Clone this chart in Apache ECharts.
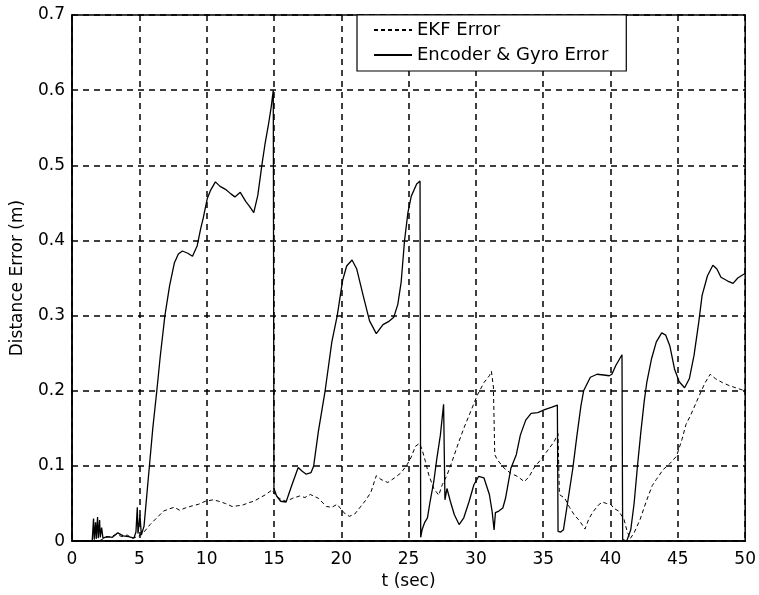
<!DOCTYPE html>
<html>
<head>
<meta charset="utf-8">
<script src="https://cdn.jsdelivr.net/npm/echarts@6/dist/echarts.min.js"></script>
<style>
  html, body { margin: 0; padding: 0; background: #fff; }
  #main { width: 759px; height: 595px; }
</style>
</head>
<body>
<div id="main"></div>
<script>
// axis ticks
const xTicks = [0, 5, 10, 15, 20, 25, 30, 35, 40, 45, 50]
const yTicks = [0, 0.1, 0.2, 0.3, 0.4, 0.5, 0.6, 0.7]

// EKF error (dashed)
const ekfT = [0, 2.0, 2.5, 2.9, 3.3, 3.7, 4.1, 4.5, 4.9, 5.3, 5.8, 6.3, 6.8, 7.25, 7.6, 8.0, 8.4, 8.95, 9.4, 9.9,
  10.5, 10.9, 11.4, 11.9, 12.3, 12.7, 13.1, 13.5, 14.0, 14.4, 14.85, 15.2, 15.6, 15.9, 16.4, 16.9, 17.3, 17.7, 18.3, 18.9,
  19.3, 19.7, 20.0, 20.3, 20.6, 21.0, 21.4, 21.8, 22.2, 22.6, 22.95, 23.45, 23.95, 24.45, 24.9, 25.2, 25.5, 25.8, 26.0, 26.25,
  26.5, 26.87, 27.24, 27.5, 27.86, 28.23, 28.73, 29.1, 29.6, 30.1, 30.6, 31.0, 31.15, 31.3, 31.4, 31.6, 32.1, 32.6, 33.1, 33.6,
  33.96, 34.3, 34.8, 35.3, 35.8, 36.1, 36.2, 36.6, 36.95, 37.3, 37.7, 38.1, 38.4, 38.7, 39.1, 39.4, 39.7, 40.0, 40.3, 40.6,
  41.0, 41.2, 41.45, 41.75, 42.2, 42.5, 42.8, 43.1, 43.4, 43.9, 44.4, 44.9, 45.3, 45.6, 45.96, 46.5, 47.0, 47.4, 47.8, 48.3,
  48.8, 49.3, 49.8, 50.0]
const ekfV = [0, 0, 0.005, 0.006, 0.009, 0.006, 0.008, 0.004, 0.006, 0.011, 0.022, 0.031, 0.04, 0.043, 0.045, 0.041, 0.044, 0.047, 0.049, 0.053,
  0.055, 0.053, 0.05, 0.046, 0.047, 0.048, 0.051, 0.053, 0.058, 0.062, 0.068, 0.059, 0.055, 0.053, 0.057, 0.06, 0.058, 0.062, 0.057, 0.046,
  0.045, 0.049, 0.042, 0.036, 0.033, 0.036, 0.045, 0.054, 0.065, 0.087, 0.082, 0.078, 0.084, 0.091, 0.102, 0.112, 0.126, 0.13, 0.122, 0.106,
  0.088, 0.07, 0.061, 0.075, 0.088, 0.106, 0.132, 0.15, 0.172, 0.194, 0.211, 0.22, 0.226, 0.205, 0.115, 0.108, 0.097, 0.09, 0.086, 0.079,
  0.086, 0.097, 0.108, 0.12, 0.132, 0.143, 0.062, 0.057, 0.045, 0.035, 0.027, 0.016, 0.03, 0.039, 0.048, 0.052, 0.05, 0.049, 0.043, 0.04,
  0.029, 0.015, 0.003, 0.011, 0.029, 0.045, 0.06, 0.074, 0.082, 0.095, 0.103, 0.113, 0.135, 0.155, 0.168, 0.19, 0.21, 0.222, 0.216, 0.211,
  0.207, 0.204, 0.201, 0.2]

// Encoder & Gyro error (solid)
const encT = [0, 1.5, 1.6, 1.65, 1.75, 1.8, 1.9, 1.95, 2.05, 2.1, 2.2, 2.3, 2.6, 3.0, 3.4, 3.8, 4.2, 4.6, 4.75, 4.85,
  4.9, 5.05, 5.15, 5.35, 5.6, 5.75, 6.0, 6.3, 6.55, 6.9, 7.25, 7.6, 7.9, 8.2, 8.6, 8.95, 9.3, 9.55, 9.75, 10.05,
  10.3, 10.65, 11.0, 11.4, 11.8, 12.1, 12.5, 12.9, 13.2, 13.5, 13.8, 14.1, 14.35, 14.6, 14.8, 14.95, 15.0, 15.2, 15.5, 15.9,
  16.3, 16.8, 17.1, 17.4, 17.75, 17.95, 18.3, 18.8, 19.3, 19.7, 20.1, 20.4, 20.8, 21.15, 21.65, 22.1, 22.6, 23.1, 23.5, 23.9,
  24.2, 24.45, 24.7, 24.95, 25.2, 25.6, 25.85, 25.9, 26.0, 26.2, 26.4, 26.6, 26.87, 27.1, 27.36, 27.6, 27.7, 27.85, 28.1, 28.4,
  28.75, 29.1, 29.5, 29.85, 30.2, 30.6, 31.0, 31.2, 31.35, 31.45, 31.7, 32.0, 32.2, 32.6, 33.0, 33.3, 33.7, 34.1, 34.6, 35.1,
  35.6, 36.05, 36.1, 36.3, 36.5, 36.8, 37.2, 37.5, 37.8, 38.0, 38.5, 39.0, 39.5, 39.9, 40.1, 40.4, 40.85, 40.9, 41.2, 41.5,
  41.75, 42.0, 42.25, 42.5, 42.7, 43.05, 43.4, 43.8, 44.1, 44.4, 44.75, 45.1, 45.5, 45.85, 46.2, 46.55, 46.8, 47.2, 47.6, 47.9,
  48.2, 48.7, 49.1, 49.45, 49.8, 50.0]
const encV = [0, 0, 0.03, 0.002, 0.025, 0.003, 0.032, 0.004, 0.028, 0.005, 0.018, 0.004, 0.006, 0.005, 0.011, 0.007, 0.006, 0.004, 0.012, 0.045,
  0.01, 0.035, 0.008, 0.02, 0.07, 0.1, 0.15, 0.2, 0.245, 0.3, 0.34, 0.37, 0.382, 0.386, 0.383, 0.379, 0.393, 0.415, 0.43, 0.456,
  0.467, 0.478, 0.472, 0.468, 0.462, 0.458, 0.464, 0.452, 0.445, 0.437, 0.46, 0.5, 0.53, 0.555, 0.578, 0.6, 0.07, 0.06, 0.053, 0.052,
  0.073, 0.098, 0.093, 0.089, 0.091, 0.1, 0.146, 0.2, 0.265, 0.3, 0.347, 0.366, 0.374, 0.362, 0.325, 0.293, 0.276, 0.288, 0.292, 0.298,
  0.315, 0.345, 0.4, 0.437, 0.459, 0.475, 0.479, 0.005, 0.015, 0.025, 0.031, 0.053, 0.079, 0.11, 0.141, 0.182, 0.055, 0.07, 0.053, 0.035,
  0.022, 0.031, 0.053, 0.075, 0.086, 0.084, 0.062, 0.04, 0.015, 0.038, 0.04, 0.044, 0.057, 0.097, 0.115, 0.141, 0.161, 0.17, 0.171, 0.175,
  0.178, 0.181, 0.013, 0.012, 0.015, 0.05, 0.097, 0.14, 0.18, 0.2, 0.218, 0.222, 0.221, 0.22, 0.222, 0.234, 0.248, 0.002, 0, 0.015,
  0.05, 0.1, 0.145, 0.186, 0.212, 0.243, 0.265, 0.277, 0.274, 0.26, 0.229, 0.212, 0.204, 0.216, 0.247, 0.291, 0.327, 0.353, 0.367, 0.362,
  0.351, 0.346, 0.343, 0.35, 0.354, 0.356]

const zip = (t, v) => t.map((x, i) => [x, v[i]])

const font = 'DejaVu Sans'
const chart = echarts.init(document.getElementById('main'), null, {renderer: 'canvas'})

const gridLine = {show: true, lineStyle: {color: '#000', width: 1.5, type: [6, 5]}}

const option = {
  backgroundColor: '#fff',
  animation: false,
  grid: {
    left: 72, right: 10, top: 15, bottom: 52,
    show: true, borderColor: '#000', borderWidth: 1.5
  },
  legend: {
    left: 357, top: 15,
    orient: 'vertical',
    backgroundColor: '#fff',
    borderColor: '#000', borderWidth: 1.2, borderRadius: 0,
    padding: [6, 18, 7, 16],
    itemWidth: 38, itemHeight: 12, itemGap: 7,
    itemStyle: {opacity: 0},
    textStyle: {fontFamily: font, fontSize: 18, color: '#000'},
    data: ['EKF Error', 'Encoder & Gyro Error']
  },
  xAxis: {
    type: 'value', min: 0, max: 50, interval: 5,
    name: 't (sec)', nameLocation: 'middle', nameGap: 26,
    nameTextStyle: {fontFamily: font, fontSize: 17, color: '#000'},
    axisLine: {show: true, lineStyle: {color: '#000', width: 1.5}},
    axisTick: {show: false},
    axisLabel: {fontFamily: font, fontSize: 17, color: '#000', margin: 10},
    splitLine: gridLine
  },
  yAxis: {
    type: 'value', min: 0, max: 0.7, interval: 0.1,
    name: 'Distance Error (m)', nameLocation: 'middle', nameGap: 46,
    nameTextStyle: {fontFamily: font, fontSize: 17, color: '#000'},
    axisLine: {show: true, lineStyle: {color: '#000', width: 1.5}},
    axisTick: {show: false},
    axisLabel: {fontFamily: font, fontSize: 17, color: '#000', margin: 7,
      formatter: v => yTicks.includes(+v.toFixed(1)) ? (v === 0 ? '0' : v.toFixed(1)) : ''},
    splitLine: gridLine
  },
  series: [
    {
      name: 'EKF Error', type: 'line', showSymbol: false, symbol: 'none',
      data: zip(ekfT, ekfV),
      lineStyle: {color: '#000', width: 1, type: [4, 3]},
      itemStyle: {color: '#000'}
    },
    {
      name: 'Encoder & Gyro Error', type: 'line', showSymbol: false, symbol: 'none',
      data: zip(encT, encV),
      lineStyle: {color: '#000', width: 1.3, type: 'solid'},
      itemStyle: {color: '#000'}
    }
  ]
}
chart.setOption(option)
</script>
</body>
</html>
